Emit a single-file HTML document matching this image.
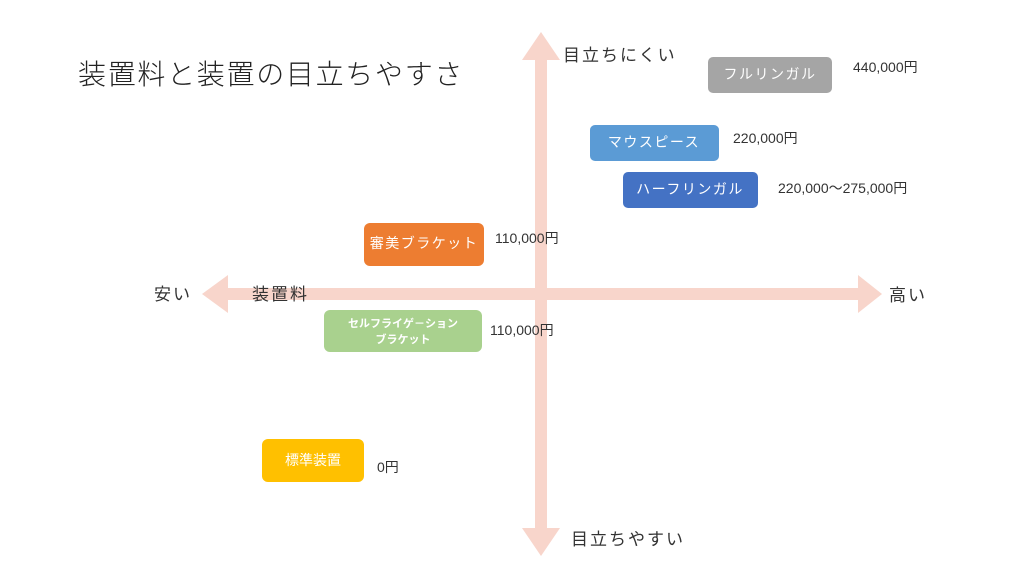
<!DOCTYPE html>
<html><head><meta charset="utf-8"><style>
html,body{margin:0;padding:0;background:#fff;}
svg{display:block;font-family:"Liberation Sans","Noto Sans CJK JP",sans-serif;}
</style></head><body>
<svg width="1024" height="576" viewBox="0 0 1024 576">
<g fill="#f8d5cb">
<rect x="228" y="288" width="632" height="12"/>
<polygon points="202,294 228,275 228,313"/>
<polygon points="882,294 858,275 858,313"/>
<rect x="535" y="58" width="12" height="472"/>
<polygon points="541,32 522,60 560,60"/>
<polygon points="541,556 522,528 560,528"/>
</g>
<text x="78" y="84" font-size="28" letter-spacing="1.7" fill="#222" font-weight="300">装置料と装置の目立ちやすさ</text>
<g font-size="17" fill="#333" letter-spacing="2">
<text x="563" y="61">目立ちにくい</text>
<text x="571" y="545">目立ちやすい</text>
<text x="154" y="300">安い</text>
<text x="252" y="300">装置料</text>
<text x="889" y="301">高い</text>
</g>
<g font-size="14" fill="#333">
<text x="853" y="72">440,000円</text>
<text x="733" y="143">220,000円</text>
<text x="778" y="193">220,000～275,000円</text>
<text x="495" y="243">110,000円</text>
<text x="490" y="335">110,000円</text>
<text x="377" y="472">0円</text>
</g>
<rect x="708" y="57" width="124" height="36" rx="5" fill="#a5a5a5"/>
<rect x="590" y="125" width="129" height="36" rx="5" fill="#5b9bd5"/>
<rect x="623" y="172" width="135" height="36" rx="5" fill="#4472c4"/>
<rect x="364" y="223" width="120" height="43" rx="6" fill="#ed7d31"/>
<rect x="324" y="310" width="158" height="42" rx="6" fill="#a9d18e"/>
<rect x="262" y="439" width="102" height="43" rx="6" fill="#ffc000"/>
<g fill="#fff" text-anchor="middle" font-size="14">
<text x="770" y="79" letter-spacing="1.5">フルリンガル</text>
<text x="654" y="147" letter-spacing="1.5">マウスピース</text>
<text x="690" y="194" letter-spacing="1.5">ハーフリンガル</text>
<text x="424" y="248" letter-spacing="1.5">審美ブラケット</text>
<text x="403" y="327" font-size="11" font-weight="bold">セルフライゲ－ション</text>
<text x="403" y="343" font-size="11" font-weight="bold">ブラケット</text>
<text x="313" y="465">標準装置</text>
</g>
</svg>
</body></html>
